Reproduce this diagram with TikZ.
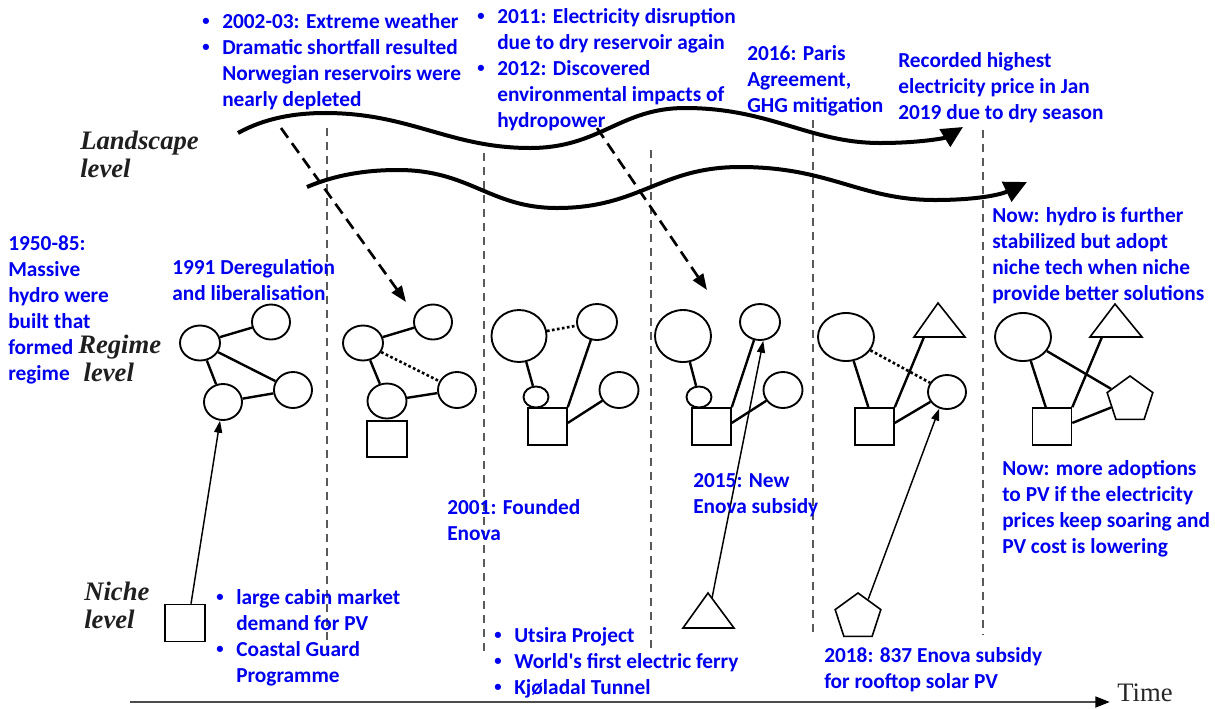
\documentclass[tikz,border=0pt]{standalone}
\usepackage{fontspec}
\setmainfont{Liberation Serif}
\newfontfamily\blufont{Carlito}
\usetikzlibrary{shapes.geometric,arrows.meta,calc}
\newcommand\pxu{0.75pt}
\newcommand\blines[1]{\begin{tabular}[t]{@{}l@{}}#1\end{tabular}}
\newcommand\bul{\makebox[15pt][l]{\raisebox{1.6pt}{\fontsize{11}{11}\selectfont •}}}
\newcommand\ind{\hspace*{15pt}}
\definecolor{txtblue}{RGB}{0,0,238}
\begin{document}
\begin{tikzpicture}[x=0.75pt,y=-0.75pt,
 btxt/.style={text=txtblue, font=\blufont\bfseries\fontsize{16}{19.5}\selectfont, inner sep=0, anchor=base west},
 lvl/.style={text=black!88, font=\bfseries\itshape\fontsize{20}{21}\selectfont, inner sep=0, anchor=base west},
 ell/.style 2 args={ellipse, draw, line width=1.4pt, inner sep=0, minimum width=#1*\pxu, minimum height=#2*\pxu},
 sq/.style={rectangle, draw, line width=1.2pt, inner sep=0, minimum width=39*\pxu, minimum height=37*\pxu},
 pent/.style={regular polygon, regular polygon sides=5, draw, line width=1.2pt, inner sep=0, minimum size=48*\pxu},
 tri/.style={line width=1.2pt, line join=miter},
 link/.style={line width=1.8pt},
 dotlink/.style={line width=2pt, dash pattern=on 2pt off 1.8pt},
 vdash/.style={draw=black!65, line width=1.3pt, dash pattern=on 6pt off 4.5pt},
 wave/.style={line width=3pt},
 shock/.style={line width=2pt, dash pattern=on 9pt off 5pt, -{Triangle[length=12pt,width=9pt]}},
 nichearrow/.style={line width=1.1pt, -{Triangle[length=9pt,width=6pt]}},
]
\useasboundingbox (0,0) rectangle (1215,708);

% vertical dashed separators
\coordinate (v1t) at (327,128); \coordinate (v1b) at (327,650);
\coordinate (v2t) at (484,153); \coordinate (v2b) at (484,655);
\coordinate (v3t) at (651,150); \coordinate (v3b) at (651,650);
\coordinate (v4t) at (813,120); \coordinate (v4b) at (813,632);
\coordinate (v5t) at (983,130); \coordinate (v5b) at (983,635);
\foreach \i in {1,...,5} \draw[vdash] (v\i t) -- (v\i b);

% landscape waves
\draw[wave,-{Triangle[length=16pt,width=15pt]}] (238,133) .. controls (265,118) and (295,113) .. (325,113)
  .. controls (410,113) and (450,148) .. (530,148)
  .. controls (600,148) and (620,108) .. (685,108)
  .. controls (770,108) and (810,143) .. (880,143)
  .. controls (920,143) and (945,138) .. (963,127);
\draw[wave,-{Triangle[length=17pt,width=16pt]}] (307,187) .. controls (335,175) and (365,170) .. (398,170)
  .. controls (470,170) and (490,208) .. (557,208)
  .. controls (640,208) and (660,167) .. (740,167)
  .. controls (830,167) and (860,200) .. (935,200)
  .. controls (975,200) and (1000,195) .. (1027,182);

% landscape shocks
\coordinate (s1) at (281,128); \coordinate (e1) at (406,302);
\coordinate (s2) at (597,128); \coordinate (e2) at (707,290);
\draw[shock] (s1) -- (e1);
\draw[shock] (s2) -- (e2);

% cluster 1
\node[ell={40}{35}] (A1) at (200,343) {};
\node[ell={38}{35}] (B1) at (271,322) {};
\node[ell={38}{36}] (C1) at (223,402) {};
\node[ell={38}{36}] (D1) at (293,390) {};
\draw[link] (A1) -- (B1); \draw[link] (A1) -- (C1); \draw[link] (A1) -- (D1); \draw[link] (C1) -- (D1);

% cluster 2
\node[ell={40}{35}] (A2) at (363,343) {};
\node[ell={38}{35}] (B2) at (433,322) {};
\node[ell={39}{35}] (C2) at (387,401) {};
\node[ell={38}{36}] (D2) at (457,390) {};
\node[sq, minimum width=40*\pxu, minimum height=36*\pxu] (S2) at (387,439) {};
\draw[link] (A2) -- (B2); \draw[link] (A2) -- (C2); \draw[link] (C2) -- (D2);
\draw[dotlink] (A2) -- (D2);

% cluster 3
\node[ell={55}{52}] (A3) at (519,336) {};
\node[ell={40}{36}] (B3) at (597,322) {};
\node[ell={25}{21}] (C3) at (536,397) {};
\node[ell={39}{36}] (D3) at (619,390) {};
\node[sq] (S3) at (547.5,426.5) {};
\draw[link] (A3) -- (C3); \draw[link] (S3.north east) -- (B3); \draw[link] (S3.10) -- (D3);
\draw[dotlink] (A3) -- (B3);

% cluster 4
\node[ell={56}{52}] (A4) at (683,336) {};
\node[ell={40}{36}] (B4) at (760,322) {};
\node[ell={25}{21}] (C4) at (699,397) {};
\node[ell={39}{36}] (D4) at (783,390) {};
\node[sq] (S4) at (711.5,426.5) {};
\draw[link] (A4) -- (C4); \draw[link] (S4.north east) -- (B4); \draw[link] (S4.10) -- (D4);

% cluster 5
\node[ell={56}{48}] (A5) at (846,337) {};
\node[ell={38}{34}] (D5) at (947,392) {};
\node[sq] (S5) at (874.5,426.5) {};
\draw[tri] (938,303) -- (914,337) -- (965,337) -- cycle;
\coordinate (T5) at (924,337);
\draw[link] (A5) -- (S5); \draw[link] (S5.north east) -- (T5); \draw[link] (S5.10) -- (D5);
\draw[dotlink] (A5) -- (D5);

% cluster 6
\node[ell={56}{48}] (A6) at (1023,337) {};
\node[pent] (P6) at (1130,400) {};
\node[sq] (S6) at (1052,426.5) {};
\draw[tri] (1115,304) -- (1090,337) -- (1142,337) -- cycle;
\coordinate (T6) at (1102,337);
\draw[link] (A6) -- (S6); \draw[link] (A6) -- (P6); \draw[link] (S6.north east) -- (T6); \draw[link] (S6.10) -- (P6);

% niche elements
\node[sq, minimum width=40*\pxu] (N1) at (185,623) {};
\draw[tri] (683,628) -- (734,628) -- (708,593) -- cycle;
\coordinate (N2) at (712,598);
\node[pent] (N3) at (858,617) {};
\draw[nichearrow] ($(N1.north)+(6,0)$) -- (C1);
\draw[nichearrow] (N2) -- (B4.-80);
\draw[nichearrow] (N3.60) -- (D5.-115);

% time axis
\coordinate (t0) at (130,702); \coordinate (t1) at (1110,702);
\draw[draw=black!70, line width=2pt, -{Triangle[length=11pt,width=8pt,color=black]}] (t0) -- (t1);
\node[inner sep=0, anchor=base west, font=\fontsize{20}{22}\selectfont, text=black!85] (time) at (1117,701) {Time};

% level labels
\node[lvl] (land) at (80,149) {\blines{Landscape\\level}};
\node[lvl] (reg) at (78,353) {\blines{Regime\\\hspace*{4pt}level}};
\node[lvl] (niche) at (84,600) {\blines{Niche\\level}};

% blue annotations
\node[btxt] (t1a) at (202,28) {\blines{\bul 2002-03: Extreme weather\\\bul Dramatic shortfall resulted\\\ind Norwegian reservoirs were\\\ind nearly depleted}};
\node[btxt] (t2a) at (477,23) {\blines{\bul 2011: Electricity disruption\\\ind due to dry reservoir again\\\bul 2012: Discovered\\\ind environmental impacts of\\\ind hydropower}};
\node[btxt] (t3a) at (747,60) {\blines{2016: Paris\\Agreement,\\GHG mitigation}};
\node[btxt] (t4a) at (898,67) {\blines{Recorded highest\\electricity price in Jan\\2019 due to dry season}};
\node[btxt] (t5a) at (8,250) {\blines{1950-85:\\Massive\\hydro were\\built that\\formed\\regime}};
\node[btxt] (t6a) at (172,274) {\blines{1991 Deregulation\\and liberalisation}};
\node[btxt] (t7a) at (992,222) {\blines{Now: hydro is further\\stabilized but adopt\\niche tech when niche\\provide better solutions}};
\node[btxt] (t8a) at (1002,475) {\blines{Now: more adoptions\\to PV if the electricity\\prices keep soaring and\\PV cost is lowering}};
\node[btxt] (t9a) at (447,514) {\blines{2001: Founded\\Enova}};
\node[btxt] (t10a) at (693,487) {\blines{2015: New\\Enova subsidy}};
\node[btxt] (t11a) at (216,604) {\blines{\bul large cabin market\\\ind demand for PV\\\bul Coastal Guard\\\ind Programme}};
\node[btxt] (t12a) at (494,642) {\blines{\bul Utsira Project\\\bul World's first electric ferry\\\bul Kjøladal Tunnel}};
\node[btxt] (t13a) at (824,662) {\blines{2018: 837 Enova subsidy\\for rooftop solar PV}};
\end{tikzpicture}
\end{document}
